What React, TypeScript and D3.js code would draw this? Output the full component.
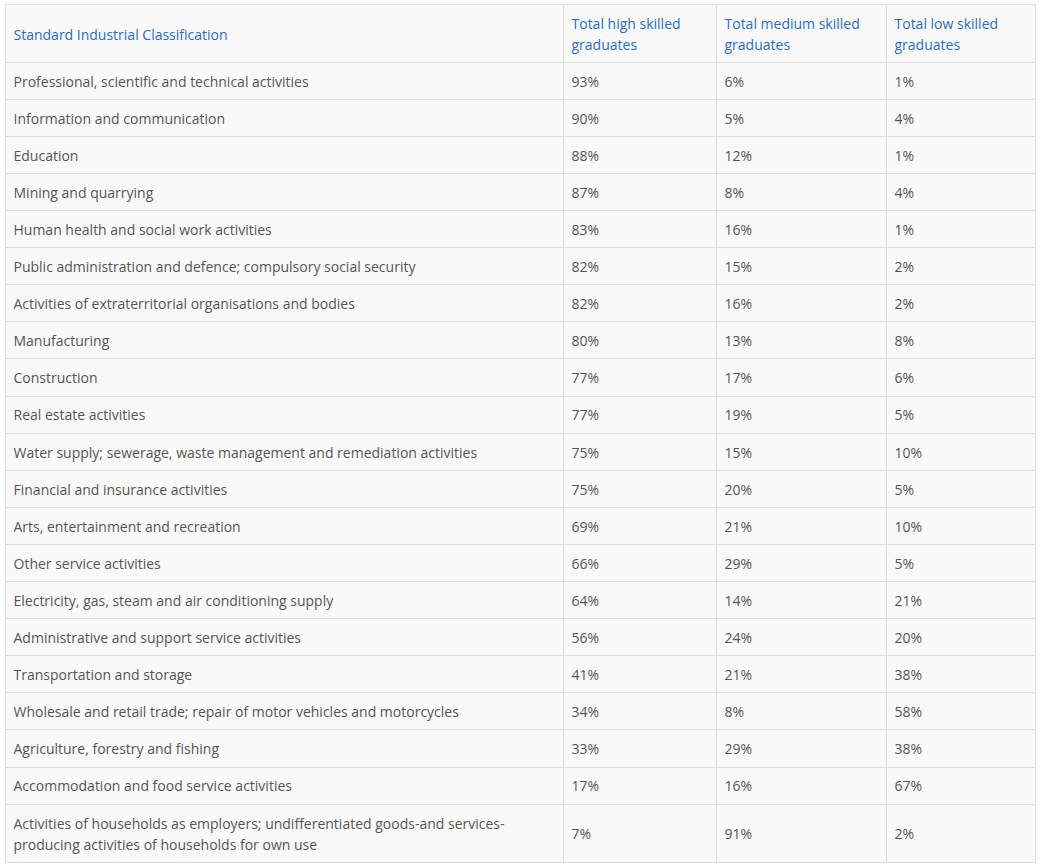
import React from "react";
import * as d3 from "d3";

const headers: string[][] = [
  ["Standard Industrial Classification"],
  ["Total high skilled", "graduates"],
  ["Total medium skilled", "graduates"],
  ["Total low skilled", "graduates"],
];

const categories: string[][] = [
  ["Professional, scientific and technical activities"],
  ["Information and communication"],
  ["Education"],
  ["Mining and quarrying"],
  ["Human health and social work activities"],
  ["Public administration and defence; compulsory social security"],
  ["Activities of extraterritorial organisations and bodies"],
  ["Manufacturing"],
  ["Construction"],
  ["Real estate activities"],
  ["Water supply; sewerage, waste management and remediation activities"],
  ["Financial and insurance activities"],
  ["Arts, entertainment and recreation"],
  ["Other service activities"],
  ["Electricity, gas, steam and air conditioning supply"],
  ["Administrative and support service activities"],
  ["Transportation and storage"],
  ["Wholesale and retail trade; repair of motor vehicles and motorcycles"],
  ["Agriculture, forestry and fishing"],
  ["Accommodation and food service activities"],
  [
    "Activities of households as employers; undifferentiated goods-and services-",
    "producing activities of households for own use",
  ],
];

const highSkilled = [93, 90, 88, 87, 83, 82, 82, 80, 77, 77, 75, 75, 69, 66, 64, 56, 41, 34, 33, 17, 7];
const mediumSkilled = [6, 5, 12, 8, 16, 15, 16, 13, 17, 19, 15, 20, 21, 29, 14, 24, 21, 8, 29, 16, 91];
const lowSkilled = [1, 4, 1, 4, 1, 2, 2, 8, 6, 5, 10, 5, 10, 5, 21, 20, 38, 58, 38, 67, 2];

const W = 1041;
const H = 868;
const left = 5;
const top = 4;
const colEdges = [5, 563, 716, 886, 1035];
const lineH = 21;
const pad = 8.05;
const border = "#dddddd";
const bg = "#f9f9f9";
const headColor = "#2a6dc2";
const bodyColor = "#555555";
const font = "'Open Sans', 'Noto Sans', sans-serif";

export default function App() {
  const fmt = d3.format("d");
  const rowsData = [
    { cells: headers, header: true },
    ...categories.map((c, i) => ({
      cells: [c, [fmt(highSkilled[i]) + "%"], [fmt(mediumSkilled[i]) + "%"], [fmt(lowSkilled[i]) + "%"]],
      header: false,
    })),
  ];
  const heights = rowsData.map((r) => {
    const n = d3.max(r.cells, (c) => c.length) || 1;
    return n * lineH + 2 * pad;
  });
  const ys: number[] = [top];
  heights.forEach((h, i) => ys.push(ys[i] + h));
  const bottom = ys[ys.length - 1];
  const x = d3.scaleOrdinal<number, number>().domain(d3.range(colEdges.length)).range(colEdges);

  return (
    <svg
      width={W}
      height={H}
      style={{ position: "absolute", left: 0, top: 0, background: "#ffffff" }}
      fontFamily={font}
      fontSize={14}
    >
      <rect x={left} y={top} width={colEdges[4] - left} height={bottom - top} fill={bg} stroke={border} strokeWidth={1} shapeRendering="crispEdges" />
      {ys.slice(1, -1).map((y, i) => (
        <line key={"h" + i} x1={left} x2={colEdges[4]} y1={y} y2={y} stroke={border} shapeRendering="crispEdges" />
      ))}
      {colEdges.slice(1, -1).map((cx, i) => (
        <line key={"v" + i} x1={cx} x2={cx} y1={top} y2={bottom} stroke={border} shapeRendering="crispEdges" />
      ))}
      {rowsData.map((r, ri) => {
        const y0 = ys[ri];
        const h = heights[ri];
        const off = r.header ? 2 : 1;
        return (
          <g key={"r" + ri}>
            {r.cells.map((lines, ci) => {
              const cy = y0 + h / 2 + off;
              const start = cy - ((lines.length - 1) * lineH) / 2;
              return (
                <text
                  key={ci}
                  x={(x(ci) as number) + 8.5}
                  fill={r.header ? headColor : bodyColor}
                  fontWeight={400}
                >
                  {lines.map((l, li) => (
                    <tspan key={li} x={(x(ci) as number) + 8.5} y={start + li * lineH} dy="0.35em">
                      {l}
                    </tspan>
                  ))}
                </text>
              );
            })}
          </g>
        );
      })}
    </svg>
  );
}
